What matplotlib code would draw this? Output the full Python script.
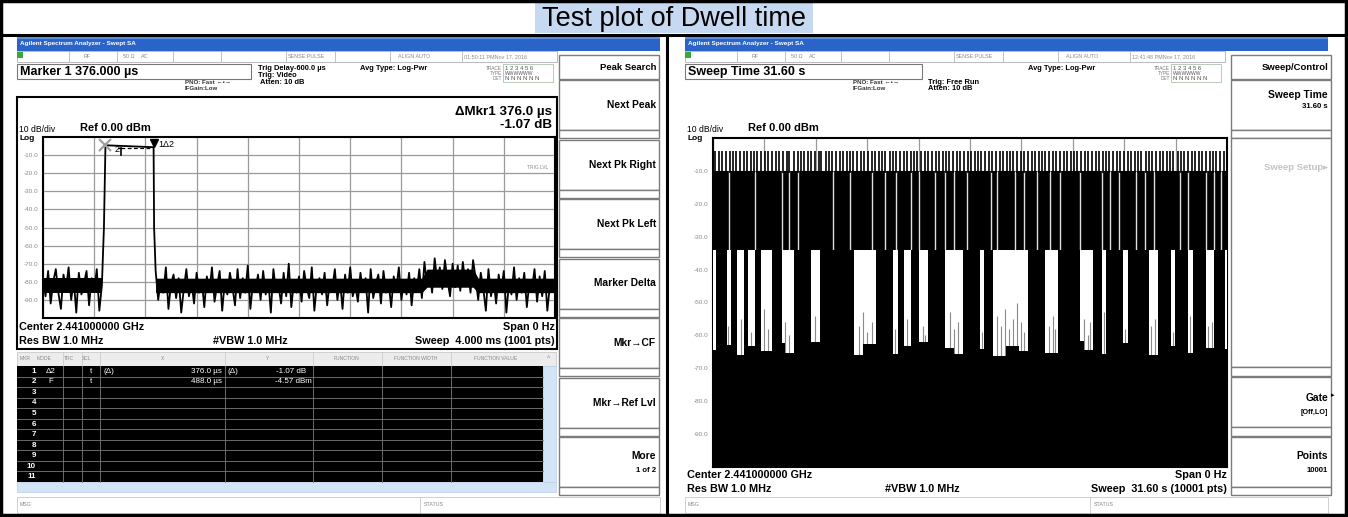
import numpy as np
import matplotlib.pyplot as plt
from matplotlib.patches import Rectangle

plt.rcParams['font.family'] = ['Liberation Sans', 'DejaVu Sans']
plt.rcParams['path.simplify'] = False

# left screen: zero-span trace, 4 ms sweep (values in dBm)
pre_us = np.arange(0, 480, 20)
pre_db = [-78, -88, -74, -92, -80, -73, -86, -95, -76, -84, -72, -90,
          -79, -97, -75, -87, -81, -74, -93, -78, -85, -73, -96, -82]
edge_us = [476, 488, 864, 868]
edge_db = [-50.0, -4.57, -5.64, -50.0]
post_us = np.arange(880, 4001, 20)
post_db = [-74, -90, -79, -86, -72, -95, -81, -76, -89, -78, -97, -84, -73, -88, -80, -92, -75, -86, -79, -94,
           -77, -85, -72, -91, -82, -74, -96, -80, -87, -75, -83, -93, -73, -89, -78, -86, -71, -95, -81, -84,
           -76, -90, -74, -87, -79, -97, -73, -85, -82, -92, -75, -88, -70, -94, -80, -86, -77, -91, -74, -83,
           -89, -72, -96, -81, -78, -87, -75, -93, -80, -84, -73, -90, -79, -95, -76, -86, -72, -88, -82, -91,
           -75, -85, -78, -97, -73, -89, -81, -76, -92, -74, -86, -80, -94, -77, -84, -72, -90, -79, -87, -75,
           -93, -78, -85, -73, -89, -69, -82, -74, -86, -67, -80, -72, -84, -68, -79, -88, -70, -83, -71, -85,
           -69, -81, -73, -86, -68, -78, -90, -75, -84, -96, -73, -88, -79, -92, -76, -85, -74, -97, -81, -87,
           -72, -90, -78, -86, -75, -94, -80, -84, -73, -91, -77, -88, -74, -96, -82, -79, -85]
# solid core of the noise band (before / after the hop)
core_pre_us = [0, 460]
core_pre_hi = [-78, -78]
core_pre_lo = [-86, -86]
core_post_us = [880, 2960, 3000, 3360, 3400, 4000]
core_post_hi = [-78, -78, -73, -73, -78, -78]
core_post_lo = [-86, -86, -83, -83, -86, -86]
mkr2_us, mkr2_db = 488, -4.57
mkr1_dus, mkr1_ddb = 376.0, -1.07

# right screen: 31.6 s sweep
top_t = [0.12, 0.35, 0.58, 0.77, 1.02, 1.24, 1.41, 1.66, 1.90, 2.08, 2.33, 2.55, 2.71, 2.98, 3.22, 3.40,
         3.63, 3.89, 4.07, 4.30, 4.52, 4.70, 4.95, 5.21, 5.38, 5.60, 5.86, 6.04, 6.27, 6.49, 6.66, 6.93,
         7.15, 7.33, 7.58, 7.80, 7.98, 8.24, 8.45, 8.63, 8.88, 9.12, 9.30, 9.54, 9.77, 9.95, 10.20, 10.41,
         10.60, 10.86, 11.08, 11.25, 11.50, 11.73, 11.92, 12.16, 12.38, 12.55, 12.81, 13.03, 13.22, 13.47,
         13.69, 13.87, 14.12, 14.35, 14.52, 14.78, 15.00, 15.18, 15.43, 15.66, 15.84, 16.09, 16.31, 16.49,
         16.75, 16.97, 17.15, 17.40, 17.62, 17.80, 18.06, 18.28, 18.46, 18.71, 18.93, 19.11, 19.37, 19.59,
         19.77, 20.02, 20.24, 20.43, 20.68, 20.90, 21.08, 21.34, 21.56, 21.74, 21.99, 22.21, 22.40, 22.65,
         22.87, 23.05, 23.31, 23.53, 23.71, 23.96, 24.18, 24.37, 24.62, 24.84, 25.02, 25.28, 25.50, 25.68,
         25.93, 26.15, 26.34, 26.59, 26.81, 26.99, 27.25, 27.47, 27.65, 27.90, 28.12, 28.31, 28.56, 28.78,
         28.96, 29.22, 29.44, 29.62, 29.87, 30.09, 30.28, 30.53, 30.75, 30.93, 31.19, 31.41]
top_db = -4.0
hop_db = -10.0
adj_db = -34.0
gap_t = [0.96, 2.56, 4.22, 4.70, 5.23, 7.36, 8.43, 9.76, 10.56, 11.23, 12.16, 12.69, 13.63, 14.29,
         14.83, 15.63, 17.09, 17.49, 18.56, 19.09, 19.89, 20.69, 21.36, 22.56, 23.89, 24.42, 24.96,
         26.02, 26.56, 27.09, 28.69, 29.22, 30.29, 30.82, 31.22]
adj_start = [0.16, 1.10, 1.90, 2.56, 3.63, 4.96, 6.56, 10.03, 11.36, 12.16, 13.23, 15.36, 16.69,
             19.36, 21.22, 23.36, 24.16, 25.49, 27.36, 28.42, 29.49, 30.82]
adj_end = [0.83, 1.50, 2.16, 2.96, 4.22, 6.03, 8.69, 11.09, 11.76, 12.69, 14.29, 16.43, 17.23,
           20.42, 22.56, 23.89, 25.22, 26.82, 28.16, 29.22, 30.29, 31.49]
floor_t = [0, 0.8, 1.6, 2.4, 3.2, 4.0, 4.8, 5.6, 6.4, 7.2, 8.0, 8.8, 9.6, 10.4, 11.2, 12.0, 12.8,
           13.6, 14.4, 15.2, 16.0, 16.8, 17.6, 18.4, 19.2, 20.0, 20.8, 21.6, 22.4, 23.2, 24.0, 24.8,
           25.6, 26.4, 27.2, 28.0, 28.8, 29.6, 30.4, 31.2, 31.6]
floor_db = [-64.5, -62.8, -65.9, -63.1, -64.7, -62.2, -65.3, -63.6, -61.9, -64.8, -63.0, -66.1, -62.7,
            -64.2, -65.6, -63.3, -62.1, -64.9, -63.7, -65.8, -62.6, -64.0, -66.4, -63.2, -64.6, -62.9,
            -65.2, -63.8, -61.8, -64.3, -65.7, -63.4, -62.4, -64.8, -66.0, -63.1, -62.7, -65.4, -63.9,
            -62.5, -64.1]
spur_t = [0.95, 1.72, 2.31, 3.15, 3.40, 4.45, 4.70, 6.28, 8.95, 9.20, 9.48, 9.75, 11.20, 11.95,
          12.92, 13.05, 14.55, 14.80, 15.05, 16.55, 17.45, 17.70, 17.95, 18.20, 18.45, 18.70, 18.95,
          19.15, 20.65, 20.90, 21.05, 22.80, 23.05, 23.20, 24.02, 25.35, 26.95, 27.15, 28.30, 29.35,
          30.45, 30.65]
spur_db = [-57, -55, -59, -52, -58, -56, -60, -54, -57, -53, -59, -56, -58, -55, -57, -60, -53, -58,
           -56, -59, -54, -57, -52, -58, -55, -50, -56, -59, -57, -54, -58, -55, -60, -56, -53, -58,
           -57, -55, -59, -54, -57, -56]

ylabels = ['-10.0', '-20.0', '-30.0', '-40.0', '-50.0', '-60.0', '-70.0', '-80.0', '-90.0']

W, H = 1348, 517
fig = plt.figure(figsize=(W / 100, H / 100), dpi=100)
ui = fig.add_axes([0, 0, 1, 1])
ui.set_xlim(0, W)
ui.set_ylim(H, 0)
ui.axis('off')


def box(x0, y0, x1, y1, fc='none', ec='#8a8a8a', lw=0.8, z=1):
    ui.add_patch(Rectangle((x0, y0), x1 - x0, y1 - y0, fc=fc, ec=ec, lw=lw, zorder=z))


def txt(x, y, s, size=5, color='black', weight='normal', ha='left', z=3):
    ui.text(x, y, s, fontsize=size, color=color, fontweight=weight, ha=ha, va='center', zorder=z)


def screen_axes(x0, y0, x1, y1, tmax):
    ax = fig.add_axes([x0 / W, 1 - y1 / H, (x1 - x0) / W, (y1 - y0) / H])
    ax.set_xlim(0, tmax)
    ax.set_ylim(-100, 0)
    ax.set_xticks(np.linspace(0, tmax, 11))
    ax.set_xticklabels([])
    ax.set_yticks(np.arange(-10, -100, -10))
    ax.set_yticklabels(ylabels)
    ax.tick_params(length=0, pad=3, labelsize=4.6, labelcolor='#8a8a8a')
    ax.grid(True, color='#9a9a9a', lw=0.9, zorder=0)
    ax.set_axisbelow(True)
    for sp in ax.spines.values():
        sp.set_linewidth(1.5)
    return ax


def keys(x0, x1, items):
    for top, bot, lines in items:
        box(x0, top, x1, bot, fc='white', ec='#7c7c7c', lw=1.0)
        for dy, s, size, color in lines:
            txt(x1 - 3, top + dy, s, size=size, weight='bold', ha='right', color=color)


# outer frame and title row
box(1, 1, W - 2, H - 2, ec='black', lw=2.5, z=5)
ui.plot([0, W], [35, 35], color='black', lw=2.2, zorder=5)
ui.plot([667, 667], [35, H], color='black', lw=2.2, zorder=5)
box(535, 3, 813, 33, fc='#c6d9f1', ec='none', z=1)
txt(674, 19, 'Test plot of Dwell time', size=19.5, z=4, ha='center')


def panel(ox, date, msg_x):
    box(ox + 17, 37, ox + 660, 51, fc='#2a64c9', ec='none')
    box(ox + 17, 37, ox + 660, 39, fc='#5d8fe2', ec='none')
    txt(ox + 20, 44, 'Agilent Spectrum Analyzer - Swept SA', size=4.6, color='white', weight='bold')
    box(ox + 17, 51, ox + 557, 62, fc='white', ec='#b0b0b0', lw=0.6)
    box(ox + 17, 52, ox + 23, 58, fc='#38a838', ec='none')
    for sx in [69, 117, 173, 221, 286, 335, 390, 462]:
        ui.plot([ox + sx, ox + sx], [51, 62], color='#b8b8b8', lw=0.6, zorder=2)
    for sx, s in [(84, 'RF'), (123, '50 \u03a9'), (141, 'AC'), (288, 'SENSE:PULSE'),
                  (398, 'ALIGN AUTO'), (464, date)]:
        txt(ox + sx, 57, s, size=3.9, color='#8a8a8a')
    txt(ox + 360, 68, 'Avg Type: Log-Pwr', size=5.4, weight='bold')
    txt(ox + 185, 82, 'PNO: Fast \u2190\u2022\u2192', size=4.4, weight='bold', color='#333333')
    txt(ox + 185, 89, 'IFGain:Low', size=4.4, weight='bold', color='#333333')
    txt(ox + 502, 68, 'TRACE', size=3.4, color='#777777', ha='right')
    txt(ox + 502, 73.5, 'TYPE', size=3.4, color='#777777', ha='right')
    txt(ox + 502, 79, 'DET', size=3.4, color='#777777', ha='right')
    box(ox + 503, 64, ox + 553, 82, fc='none', ec='#9ab89a', lw=0.5)
    txt(ox + 505, 68, '1 2 3 4 5 6', size=4.3, color='#555555')
    txt(ox + 505, 73.5, 'WWWWWW', size=3.6, color='#555555')
    txt(ox + 505, 79, 'N N N N N N', size=4.3, color='#555555')
    txt(ox + 19, 129, '10 dB/div', size=6.2)
    txt(ox + 19, 138, 'Log', size=6, weight='bold')
    txt(ox + 80, 128, 'Ref 0.00 dBm', size=8, weight='bold')
    box(ox + 17, 497, ox + 660, 513, fc='white', ec='#c8c8c8', lw=0.6)
    ui.plot([ox + msg_x, ox + msg_x], [497, 513], color='#c8c8c8', lw=0.6, zorder=2)
    txt(ox + 20, 505, 'MSG', size=3.8, color='#888888')
    txt(ox + msg_x + 4, 505, 'STATUS', size=3.8, color='#888888')
    box(ox + 17, 513, ox + 660, 515.5, fc='#d5ecfa', ec='none')


panel(0, '01:50:11 PMNov 17, 2016', 420)
panel(668, '12:41:48 PMNov 17, 2016', 422)

# ---- left screen ----
box(17, 64, 251, 79, fc='white', ec='#777777', lw=0.8)
txt(20, 71.5, 'Marker 1 376.000 \u00b5s', size=9, weight='bold')
txt(258, 68, 'Trig Delay-600.0 \u00b5s', size=5.4, weight='bold')
txt(258, 75.5, 'Trig: Video', size=5.4, weight='bold')
txt(260, 83, 'Atten: 10 dB', size=5.4, weight='bold')
box(17, 97, 557, 349, ec='black', lw=1.5, z=2)
txt(552, 112, '\u0394Mkr1 %.1f \u00b5s' % mkr1_dus, size=9.6, weight='bold', ha='right')
txt(552, 125, '%.2f dB' % mkr1_ddb, size=9.6, weight='bold', ha='right')
txt(19, 327, 'Center 2.441000000 GHz', size=7.8, weight='bold')
txt(555, 327, 'Span 0 Hz', size=7.8, weight='bold', ha='right')
txt(19, 341, 'Res BW 1.0 MHz', size=7.8, weight='bold')
txt(213, 341, '#VBW 1.0 MHz', size=7.8, weight='bold')
txt(555, 341, 'Sweep  4.000 ms (1001 pts)', size=7.8, weight='bold', ha='right')

axl = screen_axes(43, 137, 555, 318, 4000)
t_l = np.concatenate([pre_us, edge_us, post_us])
y_l = np.concatenate([pre_db, edge_db, post_db])
axl.fill_between(core_pre_us, core_pre_lo, core_pre_hi, color='black', lw=0, zorder=3)
axl.fill_between(core_post_us, core_post_lo, core_post_hi, color='black', lw=0, zorder=3)
axl.plot(t_l, y_l, color='black', lw=1.3, zorder=3)
axl.plot(mkr2_us, mkr2_db + 0.3, marker='x', ms=9, mew=1.6, color='#a0a0a0', zorder=4)
axl.text(mkr2_us + 70, mkr2_db - 2.2, '2', fontsize=6.5, va='center')
m1_us = mkr2_us + mkr1_dus
ref_db = mkr2_db - 1.3
axl.plot([mkr2_us + 95, mkr2_us + 125], [ref_db, ref_db], color='black', lw=0.9, zorder=4)
axl.plot([mkr2_us + 125, mkr2_us + 125], [ref_db, ref_db - 4], color='black', lw=1.2, zorder=4)
axl.plot([mkr2_us + 125, m1_us - 20], [ref_db, ref_db], color='black', lw=0.9, ls=(0, (3, 2)), zorder=4)
axl.plot(m1_us, mkr2_db + mkr1_ddb + 2.4, marker='v', ms=6, color='black', zorder=4)
axl.text(m1_us + 35, mkr2_db + 0.3, '1\u03942', fontsize=6.5, va='center')
axl.text(3950, -17, 'TRIG LVL', fontsize=3.5, color='#888888', ha='right', va='center')

# marker table
box(17, 352, 556, 366, fc='#ececec', ec='#c0c0c0', lw=0.5)
for hx, s, ha in [(20, 'MKR', 'left'), (37, 'MODE', 'left'), (64, 'TRC', 'left'), (82, 'SCL', 'left'),
                  (163, 'X', 'center'), (268, 'Y', 'center'), (347, 'FUNCTION', 'center'),
                  (416, 'FUNCTION WIDTH', 'center'), (496, 'FUNCTION VALUE', 'center')]:
    txt(hx, 359, s, size=3.6, color='#8a8a8a', ha=ha)
for sx in [63, 82, 100, 225, 313, 382, 451]:
    ui.plot([sx, sx], [352, 366], color='#c8c8c8', lw=0.5, zorder=2)
box(17, 366, 543, 482, fc='black', ec='none')
row_h = (482 - 366) / 11
for i in range(11):
    yc = 366 + row_h * (i + 0.5)
    if i > 0:
        ui.plot([17, 543], [366 + row_h * i] * 2, color='#7a7a7a', lw=0.6, zorder=2)
    txt(36, yc, str(i + 1), size=5.8, color='white', weight='bold', ha='right')
for sx in [63, 82, 100, 225, 313, 382, 451]:
    ui.plot([sx, sx], [366, 482], color='#7a7a7a', lw=0.6, zorder=2)
r1, r2 = 366 + row_h * 0.5, 366 + row_h * 1.5
txt(46, r1, '\u03942', size=5.8, color='white')
txt(90, r1, 't', size=5.8, color='white')
txt(104, r1, '(\u0394)', size=5.8, color='white')
txt(222, r1, '%.1f \u00b5s' % mkr1_dus, size=5.8, color='white', ha='right')
txt(228, r1, '(\u0394)', size=5.8, color='white')
txt(306, r1, '%.2f dB' % mkr1_ddb, size=5.8, color='white', ha='right')
txt(48, r2, 'F', size=5.8, color='white')
txt(90, r2, 't', size=5.8, color='white')
txt(222, r2, '%.1f \u00b5s' % mkr2_us, size=5.8, color='white', ha='right')
txt(312, r2, '%.2f dBm' % mkr2_db, size=5.8, color='white', ha='right')
box(543, 366, 556, 482, fc='#d2e4f6', ec='#b8cfe8', lw=0.5)
box(17, 482, 556, 492, fc='#d2e4f6', ec='#b8cfe8', lw=0.5)
txt(549, 359, '^', size=5, color='#6a8ac8', ha='center')

left_keys = [(55, 79, [(12, 'Peak Search', 6.8, 'black')])]
for i, lab in enumerate(['Next Peak', 'Next Pk Right', 'Next Pk Left', 'Marker Delta',
                         'Mkr\u2192CF', 'Mkr\u2192Ref Lvl']):
    top = 80 + 59.5 * i
    left_keys.append((top, top + 50, [(25, lab, 7.4, 'black')]))
    left_keys.append((top + 50, top + 58, []))
left_keys.append((437, 487, [(19, 'More', 7.4, 'black'), (33, '1 of 2', 5.6, 'black')]))
left_keys.append((487, 495, []))
keys(559, 659, left_keys)

# ---- right screen ----
box(685, 64, 922, 79, fc='white', ec='#777777', lw=0.8)
txt(688, 71.5, 'Sweep Time 31.60 s', size=9, weight='bold')
txt(928, 82, 'Trig: Free Run', size=5.4, weight='bold')
txt(928, 89, 'Atten: 10 dB', size=5.4, weight='bold')
txt(687, 475, 'Center 2.441000000 GHz', size=7.8, weight='bold')
txt(1227, 475, 'Span 0 Hz', size=7.8, weight='bold', ha='right')
txt(687, 489, 'Res BW 1.0 MHz', size=7.8, weight='bold')
txt(885, 489, '#VBW 1.0 MHz', size=7.8, weight='bold')
txt(1227, 489, 'Sweep  31.60 s (10001 pts)', size=7.8, weight='bold', ha='right')

axr = screen_axes(713, 138, 1227, 467, 31.6)
axr.fill_between([0, 31.6], -100, hop_db, color='black', lw=0, zorder=2)
axr.vlines(gap_t, adj_db, hop_db, color='#dedede', lw=1.0, zorder=3)
axr.fill_between([0, 31.6], adj_db, -100, color='white', lw=0, zorder=3)
for a, b in zip(adj_start, adj_end):
    axr.fill_between([a, b], -100, adj_db, color='black', lw=0, zorder=4)
axr.vlines(spur_t, -70, spur_db, color='#8a8a8a', lw=0.8, zorder=4)
axr.fill_between(floor_t, -100, floor_db, step='mid', color='black', lw=0, zorder=5)
axr.vlines(top_t, hop_db - 0.5, top_db, color='black', lw=1.2, zorder=3)

right_keys = [(55, 79, [(12, 'Sweep/Control', 6.8, 'black')]),
              (80, 130, [(15, 'Sweep Time', 7.4, 'black'), (27, '31.60 s', 5.6, 'black')]),
              (130, 138, []),
              (138, 367, [(29, 'Sweep Setup\u25b8', 6.8, '#c4c4c4')]),
              (367, 376, []),
              (377, 427, [(21, 'Gate', 7.4, 'black'), (35, '[Off,LO]', 5.2, 'black')]),
              (427, 436, []),
              (437, 487, [(19, 'Points', 7.4, 'black'), (33, '10001', 5.6, 'black')]),
              (487, 495, [])]
keys(1231, 1331, right_keys)
txt(1331, 396, '\u25b8', size=5, ha='left')

fig.savefig('out.png', dpi=100)
